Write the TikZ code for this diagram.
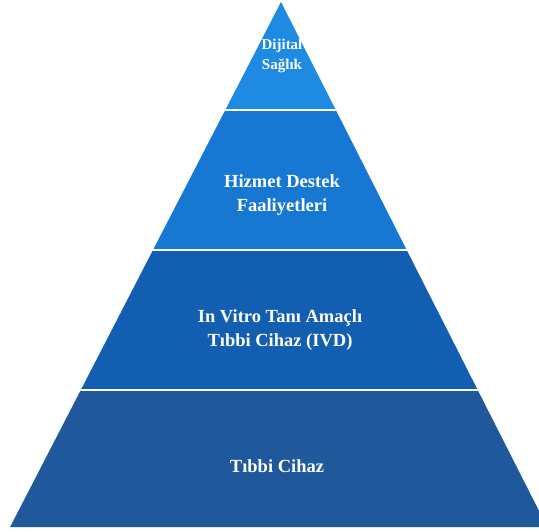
\documentclass[tikz,border=0pt]{standalone}
\usepackage{fontspec}
\setmainfont{Liberation Serif}
\definecolor{bandA}{RGB}{30,138,226}
\definecolor{bandB}{RGB}{22,120,210}
\definecolor{bandC}{RGB}{18,94,176}
\definecolor{bandD}{RGB}{31,89,156}
\tikzset{
  band/.style={draw=none},
  sep/.style={draw=white, line width=2.2pt},
  lbl/.style={text=white, align=center, font=\bfseries\fontsize{18.5}{23.5}\selectfont, inner sep=0pt},
  toplbl/.style={lbl, font=\bfseries\fontsize{15}{20}\selectfont}
}
\begin{document}
\begin{tikzpicture}[x=1pt,y=-1pt]
\path[use as bounding box] (0,0) rectangle (539,532);
\begin{scope}
\clip (0,0) rectangle (539,532);
\fill[band, bandA] (281,2) -- (335.8,110) -- (225.3,110) -- cycle;
\fill[band, bandB] (225.3,110) -- (335.8,110) -- (406.7,250) -- (153.0,250) -- cycle;
\fill[band, bandC] (153.0,250) -- (406.7,250) -- (477.7,390) -- (80.8,390) -- cycle;
\fill[band, bandD] (80.8,390) -- (477.7,390) -- (547.2,527) -- (10.1,527) -- cycle;
\coordinate (l1) at (220,110); \coordinate (r1) at (340,110);
\coordinate (l2) at (148,250); \coordinate (r2) at (412,250);
\coordinate (l3) at (75,390); \coordinate (r3) at (484,390);
\draw[sep] (l1) -- (r1);
\draw[sep] (l2) -- (r2);
\draw[sep] (l3) -- (r3);
\end{scope}
\node[toplbl] (t1) at (282,56) {Dijital\\Sağlık};
\node[lbl] (t2) at (282,195) {Hizmet Destek\\Faaliyetleri};
\node[lbl] (t3) at (280,330) {In Vitro Tanı Amaçlı\\Tıbbi Cihaz (IVD)};
\node[lbl] (t4) at (277,466) {Tıbbi Cihaz};
\end{tikzpicture}
\end{document}
